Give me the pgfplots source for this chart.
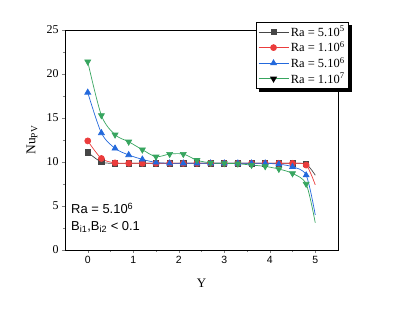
\documentclass[border=0pt]{standalone}
\usepackage{pgfplots}
\pgfplotsset{compat=1.18}
\usepackage{fontspec}
\setmainfont{Liberation Serif}
\newfontfamily\arialfont{Liberation Sans}
\usetikzlibrary{backgrounds}
\definecolor{cblack}{RGB}{70,70,70}
\definecolor{cred}{RGB}{235,60,60}
\definecolor{cblue}{RGB}{35,105,220}
\definecolor{cgreen}{RGB}{55,165,95}
\begin{document}
\begin{tikzpicture}
\path (-65bp,-66bp) rectangle (332bp,250bp);
\begin{axis}[
  scale only axis, width=273bp, height=220bp,
  xmin=-0.5, xmax=5.5, ymin=0, ymax=25,
  xtick={0,1,2,3,4,5}, ytick={0,5,10,15,20,25},
  minor x tick num=1, minor y tick num=1,
  xtick pos=lower, ytick pos=left, tick align=outside,
  major tick length=3bp, minor tick length=2bp,
  /pgf/number format/assume math mode=true,
  xticklabel style={font=\arialfont\fontsize{10.5}{12}\selectfont},
  yticklabel style={font=\fontsize{12}{14}\selectfont},
  every axis x label/.style={at={(axis description cs:0.5,0)}, yshift=-33bp, anchor=center, font=\fontsize{13}{15}\selectfont},
  every axis y label/.style={at={(axis description cs:0,0.5)}, xshift=-33bp, rotate=90, anchor=center, font=\fontsize{13.5}{15}\selectfont},
  xlabel={Y}, ylabel={Nu\textsubscript{PV}},
  legend style={name=leg, at={(rel axis cs:0.6996,1.036)}, anchor=north west, draw=black, fill=white,
    font=\fontsize{12.5}{14}\selectfont, row sep=0pt, inner sep=2bp},
  legend cell align=left,
  legend image code/.code={\draw[#1, mark=none] (0bp,0bp) -- (30bp,0bp); \draw[#1, mark indices={1}] plot coordinates {(15bp,0bp)};},
]
\addplot[cblack, line width=0.7pt, smooth, mark=square*, mark size=2.6bp, mark options={fill=cblack, draw=cblack}, mark indices={1,2,...,17}] coordinates {
(0,11.1) (0.3,10.0) (0.6,9.85) (0.9,9.85) (1.2,9.85) (1.5,9.85) (1.8,9.85) (2.1,9.85) (2.4,9.85) (2.7,9.85) (3.0,9.85) (3.3,9.85) (3.6,9.85) (3.9,9.85) (4.2,9.85) (4.5,9.85) (4.8,9.75) (5.0,8.5)};
\addlegendentry{Ra = 5.10\textsuperscript{5}}
\addplot[cred, line width=0.7pt, smooth, mark=*, mark size=3bp, mark options={fill=cred, draw=cred}, mark indices={1,2,...,17}] coordinates {
(0,12.4) (0.3,10.4) (0.6,9.9) (0.9,9.85) (1.2,9.85) (1.5,9.85) (1.8,9.85) (2.1,9.85) (2.4,9.85) (2.7,9.85) (3.0,9.85) (3.3,9.85) (3.6,9.85) (3.9,9.85) (4.2,9.85) (4.5,9.85) (4.8,9.65) (5.0,7.4)};
\addlegendentry{Ra = 1.10\textsuperscript{6}}
\addplot[cblue, line width=0.7pt, smooth, mark=triangle*, mark size=3.4bp, mark options={fill=cblue, draw=cblue}, mark indices={1,2,...,17}] coordinates {
(0,17.9) (0.3,13.3) (0.6,11.55) (0.9,10.8) (1.2,10.3) (1.5,9.95) (1.8,9.85) (2.1,9.85) (2.4,9.85) (2.7,9.85) (3.0,9.85) (3.3,9.85) (3.6,9.85) (3.9,9.85) (4.2,9.75) (4.5,9.45) (4.8,8.5) (5.0,4.0)};
\addlegendentry{Ra = 5.10\textsuperscript{6}}
\addplot[cgreen, line width=0.7pt, smooth, mark=triangle*, mark size=3.4bp, mark options={fill=cgreen, draw=cgreen, rotate=180}, mark indices={1,2,...,17}, forget plot] coordinates {
(0,21.4) (0.3,15.3) (0.6,13.1) (0.9,12.3) (1.2,11.4) (1.5,10.6) (1.8,10.9) (2.1,10.9) (2.4,10.2) (2.7,9.9) (3.0,9.85) (3.3,9.8) (3.6,9.65) (3.9,9.5) (4.2,9.2) (4.5,8.7) (4.8,7.5) (5.0,3.1)};
\addlegendimage{cgreen, line width=0.7pt, mark=triangle*, mark size=3.4bp, mark options={fill=black, draw=black, rotate=180}}
\addlegendentry{Ra = 1.10\textsuperscript{7}}
\node[anchor=north west, inner sep=0pt, align=left, font=\arialfont\fontsize{13}{16.5}\selectfont] at (rel axis cs:0.022,0.214) {Ra = 5.10\textsuperscript{6}\\B\textsubscript{i1},B\textsubscript{i2} < 0.1};
\end{axis}
\begin{pgfonlayer}{background}
\fill[black] ([shift={(3bp,-3bp)}]leg.south west) rectangle ([shift={(3bp,-3bp)}]leg.north east);
\end{pgfonlayer}
\end{tikzpicture}
\end{document}
